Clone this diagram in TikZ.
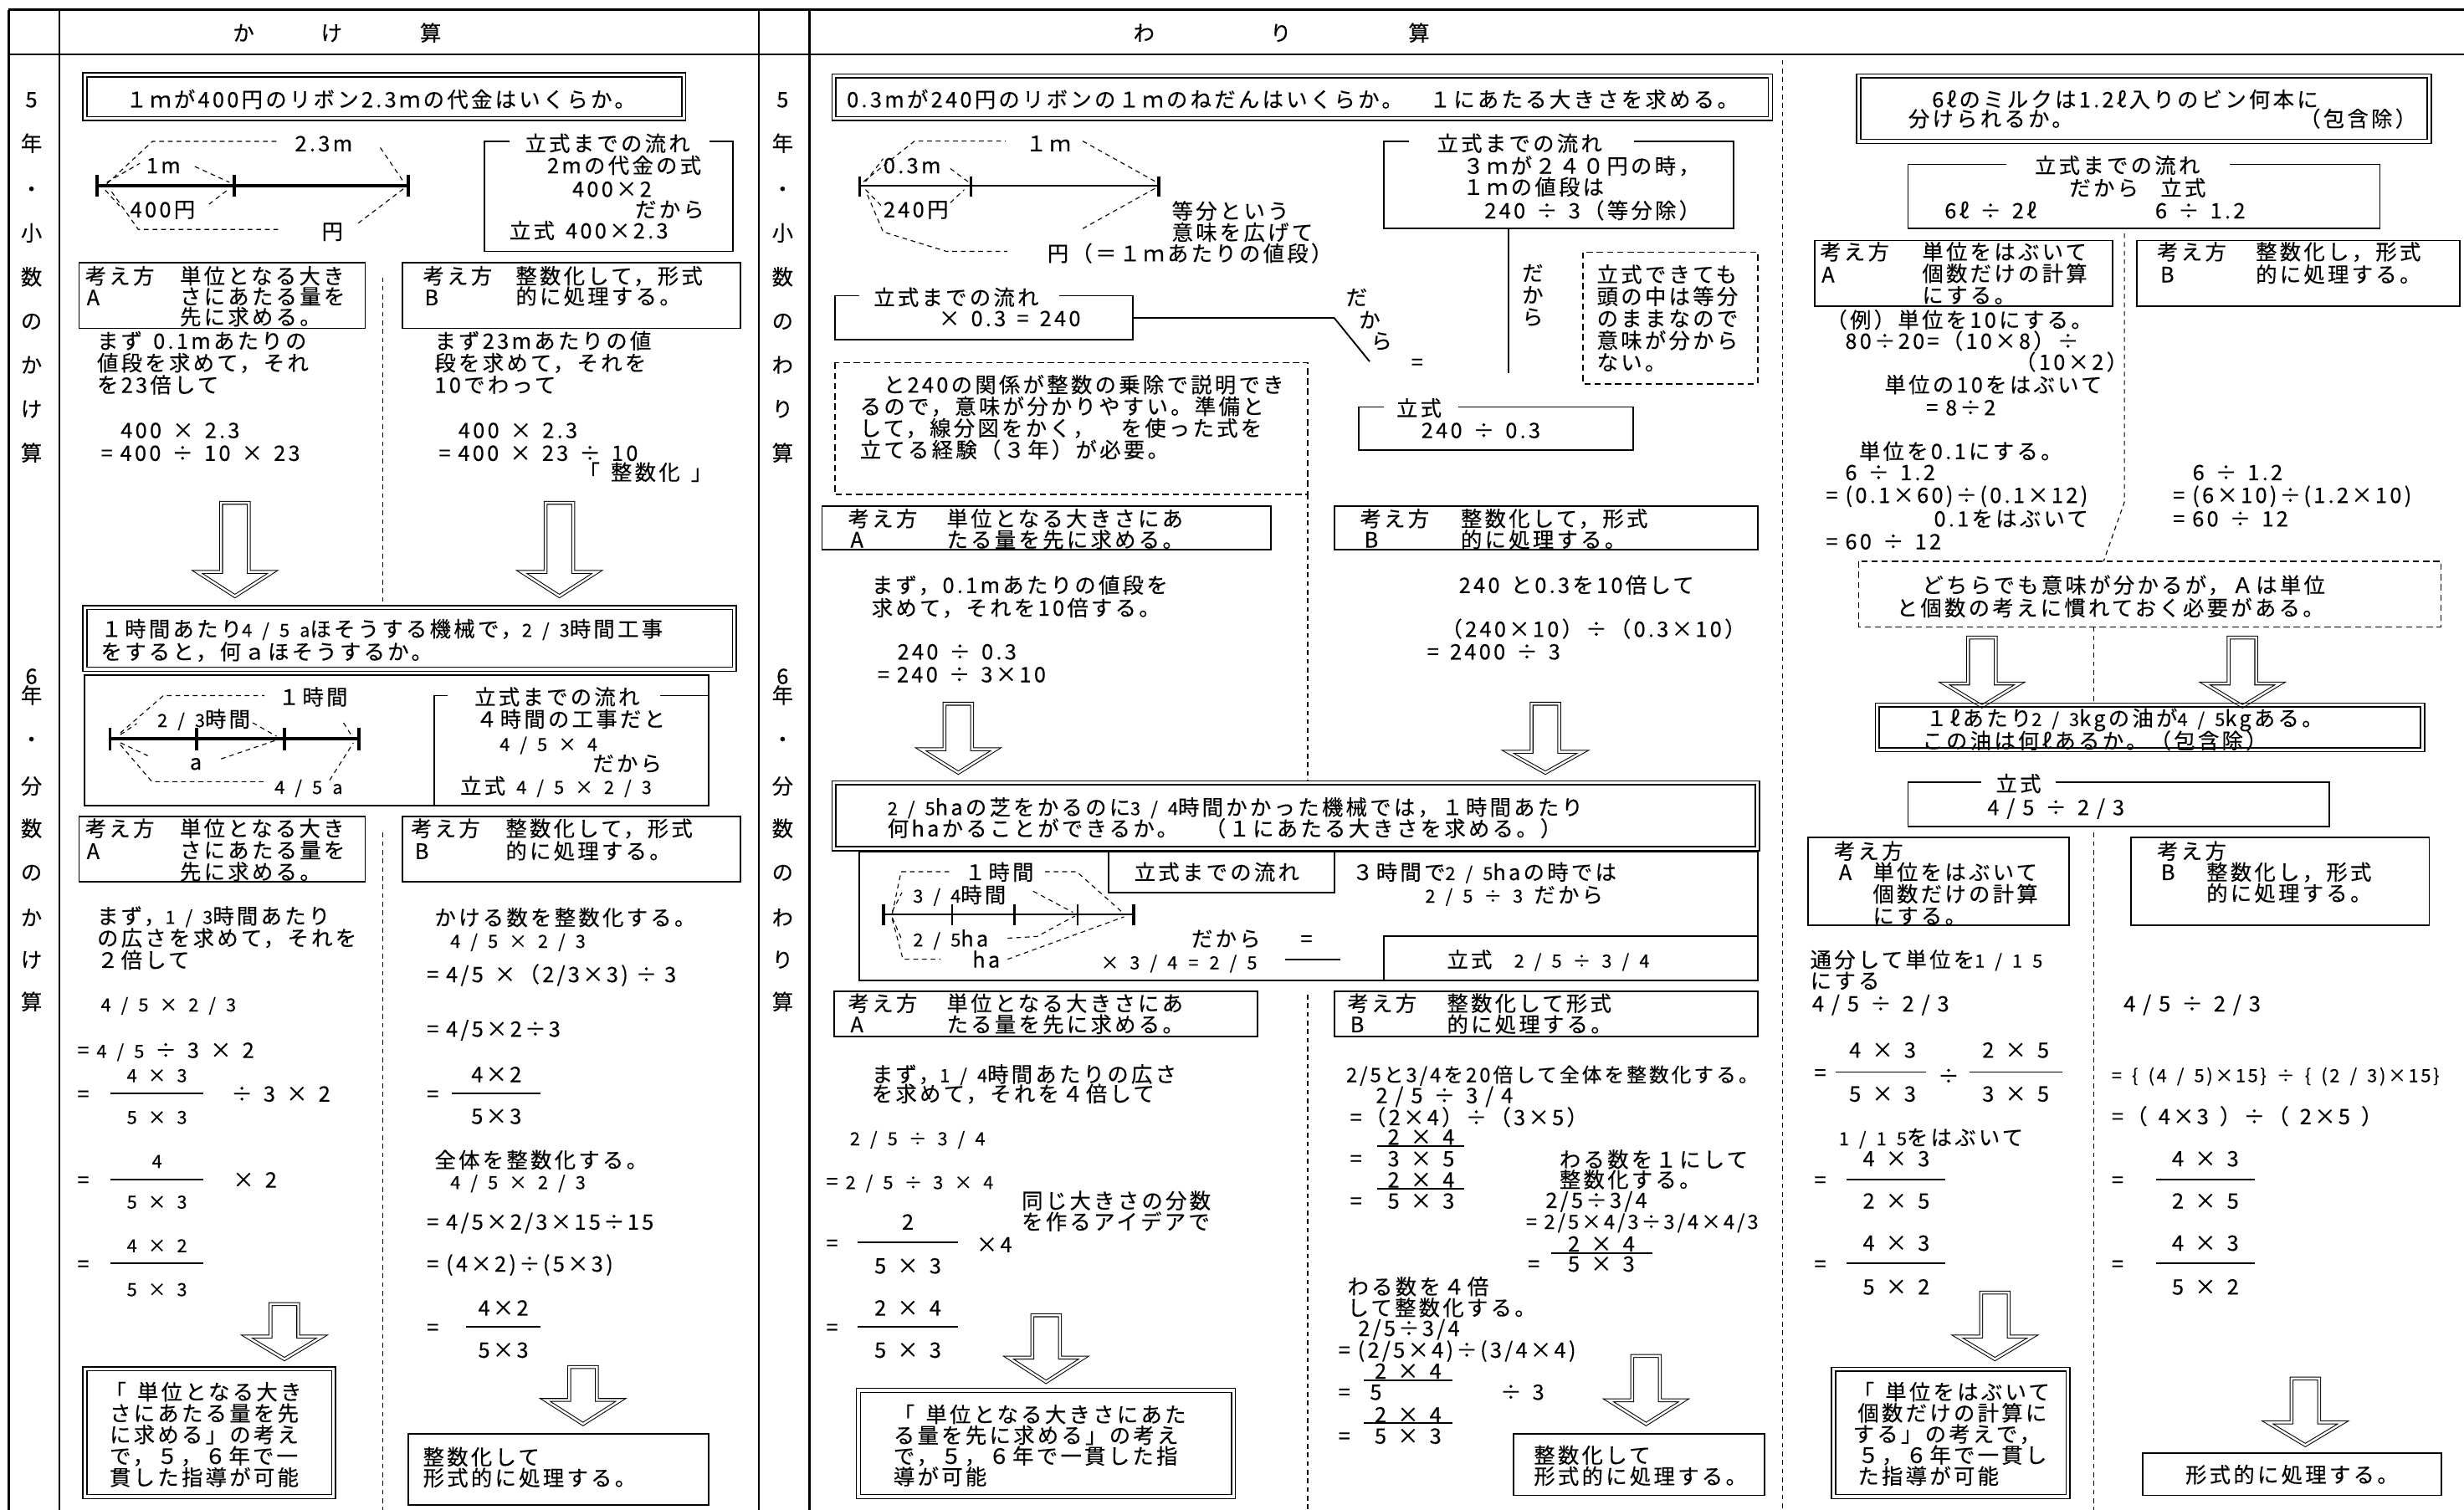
\documentclass[tikz,border=0pt]{standalone}
\usepackage{fontspec}
\newfontfamily\jpf[LetterSpace=13,FakeBold=0.3]{Noto Sans CJK JP}
\newcommand\smf[1]{{\fontsize{11.5}{12}\selectfont\spaceskip=6.5pt plus 1pt #1}}
\newcommand\nar[1]{{\fontsize{12.6}{14}\selectfont #1}}
\newcommand\GP{\hspace{7pt}}
\newcounter{nn}
\tikzset{
 tx/.style={anchor=north west,inner sep=0pt,align=left,font={\jpf\fontsize{13.5}{14}\selectfont\lineskiplimit=-50pt}},
 tc/.style={tx,anchor=north,align=center},
 bl/.style={draw,line width=1pt},
 tl/.style={line width=1.3pt},
 dl/.style={line width=0.6pt,dash pattern=on 3pt off 2.5pt},
 db/.style={line width=0.9pt,dash pattern=on 4pt off 2.5pt},
 arr/.style={draw,double,double distance=1.3pt,line width=0.55pt,fill=white},
 dg/.style={line width=2pt},
}
\newcommand\T[3]{\stepcounter{nn}\node[tx] (n\arabic{nn}) at (#1,#2-8.4) {\rule{0pt}{13.5pt}#3};}
\newcommand\Tp[4]{\stepcounter{nn}\node[tx,font={\jpf\fontsize{13.5}{#3}\selectfont\lineskiplimit=-50pt}] (n\arabic{nn}) at (#1,#2-8.4) {\rule{0pt}{13.5pt}#4};}
\newcommand\Tc[3]{\stepcounter{nn}\node[tc] (n\arabic{nn}) at (#1,#2-8.4) {\rule{0pt}{13.5pt}#3};}
\newcommand\HA[4]{\draw[arr] (#1-8.8,#2) -- (#1-8.8,#3) -- (#1-24,#3) -- (#1,#4) -- (#1+24,#3) -- (#1+8.8,#3) -- (#1+8.8,#2) -- cycle;}
\newcommand\DB[4]{\draw[line width=0.8pt] (#1,#2) rectangle (#3,#4); \draw[line width=0.8pt] (#1+2.5,#2+2.5) rectangle (#3-2.5,#4-2.5);}
\newcommand\TB[6]{\draw[bl] (#5,#2) -- (#1,#2) -- (#1,#4) -- (#3,#4) -- (#3,#2) -- (#6,#2);}
\newcommand\BX[4]{\draw[bl] (#1,#2) rectangle (#3,#4);}
\newcommand\FR[3]{\draw[line width=1pt] (#1,#3) -- (#2,#3);}
\begin{document}
\begin{tikzpicture}[x=1pt,y=-1pt]
\useasboundingbox[fill=white] (0,0) rectangle (1568,961);
% table
\draw[tl] (5.5,6.2) -- (1568,6.2);
\draw[tl] (5.5,34.6) -- (1568,34.6);
\foreach \x in {5.5,37.7,483,515} \draw[tl] (\x,6.2) -- (\x,961);
\Tc{155}{20.7}{か}\Tc{211}{20.7}{け}\Tc{274}{20.7}{算}
\Tc{728}{20.7}{わ}\Tc{815}{20.7}{り}\Tc{903}{20.7}{算}
\foreach \yy/\ch in {63/5,91/年,120/・,148/小,176/数,204/の,232/か,260/け,288/算,430/6,442.3/年,470.2/・,500/分,527/数,554.8/の,583.7/か,610.5/け,637.3/算}{\Tc{20}{\yy}{\ch}}
\foreach \yy/\ch in {63/5,91/年,120/・,148/小,176/数,204/の,232/わ,260/り,288/算,430/6,442.3/年,470.2/・,500/分,527/数,554.8/の,583.7/わ,610.5/り,637.3/算}{\Tc{498}{\yy}{\ch}}
% ===== kakezan 5 =====
\DB{52.8}{46.4}{436.4}{76.8}
\T{80}{63}{１ｍが400円のリボン2.3ｍの代金はいくらか。}
\draw[dg] (61.6,118) -- (260,118);
\foreach \x in {61.6,149,260} \draw[dg] (\x,111.5) -- (\x,125);
\draw[dl] (68,117) -- (97,90) -- (177,90);
\draw[dl] (242,94) -- (257,116);
\draw[dl] (68,116) -- (89,104);
\draw[dl] (124,106) -- (146,116);
\draw[dl] (67,121) -- (76,131);
\draw[dl] (133,130) -- (146,120);
\draw[dl] (71,122) -- (88,146) -- (177,146);
\draw[dl] (228,142) -- (257,120);
\Tc{206}{91}{2.3m}\Tc{104}{105}{1m}\Tc{103.5}{133}{400円}\Tc{211.5}{147}{円}
\TB{308.5}{90}{466.6}{160}{324}{451.5}
\Tc{386.6}{91}{立式までの流れ}
\T{348}{105}{2mの代金の式}
\T{364}{120}{400×2}
\T{404}{133}{だから}
\T{324}{146.5}{立式\GP 400×2.3}
\BX{50.3}{167}{232.4}{209}
\T{54}{175.4}{考え方}\Tp{114.3}{175.4}{13}{単位となる大き\\さにあたる量を\\先に求める。}\T{55}{189}{A}
\BX{256.3}{167}{471}{209}
\T{269}{175.4}{考え方}\Tp{328}{175.4}{13}{整数化して，形式\\的に処理する。}\T{270}{189}{B}
\T{61.6}{216.7}{まず\GP 0.1mあたりの\\値段を求めて，それ\\を23倍して}
\T{76.6}{273.5}{400\GP×\GP 2.3}
\T{64}{288}{= 400\GP÷\GP 10\GP×\GP 23}
\T{276.4}{216.7}{まず23mあたりの値\\段を求めて，それを\\10でわって}
\T{291.5}{273.5}{400\GP×\GP 2.3}
\T{279}{288}{= 400\GP×\GP 23\GP÷\GP 10}
\T{368}{300.3}{「\GP 整数化\GP 」}
\draw[dl] (243.7,176.5) -- (243.7,385.5);
\HA{149.5}{320}{364}{379.4}
\HA{356}{320}{364}{379.4}
% ===== kakezan 6 =====
\DB{52.8}{385.5}{468.6}{427.2}
\Tp{64}{400}{14.5}{１時間あたり\smf{4 / 5 a}ほそうする機械で，\smf{2 / 3}時間工事\\をすると，何ａほそうするか。}
\BX{54}{429.5}{451}{512.5}
\draw[bl] (285,442.7) -- (276.4,442.7) -- (276.4,512.5);
\draw[bl] (420,442.7) -- (451,442.7);
\Tc{354.5}{443.3}{立式までの流れ}
\T{302.8}{457.4}{４時間の工事だと}
\T{317.8}{472.7}{\smf{4 / 5\GP×\GP 4}}
\T{377}{485.6}{だから}
\T{292.7}{500}{立式\GP\smf{4 / 5\GP×\GP 2 / 3}}
\draw[dg] (70,470.2) -- (228.6,470.2);
\foreach \x in {70,125,181,228.6} \draw[dg] (\x,463) -- (\x,477.4);
\draw[dl] (76.6,466.5) -- (104,442.7) -- (168.3,442.7);
\draw[dl] (218.6,460) -- (224,468.6);
\draw[dl] (76.6,467.6) -- (87,460.5);
\draw[dl] (160.8,460) -- (176,468.6);
\draw[dl] (76.6,472.7) -- (94,481);
\draw[dl] (140.7,483) -- (176,471);
\draw[dl] (76.6,474) -- (96.7,497.5) -- (168.3,497.5);
\draw[dl] (209.8,496.5) -- (224.9,472.7);
\T{177}{443.3}{１時間}\T{100}{457.4}{\smf{2 / 3}時間}\T{120.6}{484.6}{a}\T{174.6}{500}{\smf{4 / 5 a}}
\BX{50.3}{519.7}{232.4}{561}
\T{54}{527}{考え方}\Tp{114.3}{527}{13.8}{単位となる大き\\さにあたる量を\\先に求める。}\T{55}{541.4}{A}
\BX{256.3}{519.7}{471}{561}
\T{261.3}{527}{考え方}\Tp{321.6}{527}{14.4}{整数化して，形式\\的に処理する。}\T{263.8}{541.4}{B}
\draw[dl] (243.7,530) -- (243.7,961);
\Tp{61.6}{582.7}{14}{まず，\smf{1 / 3}時間あたり\\の広さを求めて，それを\\２倍して}
\T{64}{638.4}{\smf{4 / 5\GP×\GP 2 / 3}}
\T{49}{668}{= \smf{4 / 5}\GP÷\GP 3\GP×\GP 2}
\T{49}{695.8}{=}\Tc{99.9}{683.4}{\smf{4\GP×\GP 3}}\FR{70.4}{129.4}{695.8}\Tc{99.9}{710}{\smf{5\GP×\GP 3}}\T{147}{695.8}{÷\GP 3\GP×\GP 2}
\T{49}{750.5}{=}\Tc{99.9}{738}{\smf{4}}\FR{70.4}{129.4}{750.5}\Tc{99.9}{763.9}{\smf{5\GP×\GP 3}}\T{148}{750.5}{×\GP 2}
\T{49}{804}{=}\Tc{99.9}{791.7}{\smf{4\GP×\GP 2}}\FR{70.4}{129.4}{804}\Tc{99.9}{819.6}{\smf{5\GP×\GP 3}}
\HA{181}{830}{850.6}{865}
\DB{52.8}{870}{213.6}{953.8}
\Tp{66.6}{885.6}{13.6}{「\GP 単位となる大き\\\hspace{3pt}さにあたる量を先\\\hspace{3pt}に求める」の考え\\\hspace{3pt}で，５，６年で一\\\hspace{3pt}貫した指導が可能}
\T{276.4}{583.7}{かける数を整数化する。}
\T{286.4}{598}{\smf{4 / 5\GP×\GP 2 / 3}}
\T{271.4}{619.8}{= 4/5\GP×（2/3×3) ÷ 3}
\T{271.4}{654.5}{= 4/5×2÷3}
\T{271.4}{695.8}{=}\Tc{315.9}{683.4}{4×2}\FR{287.7}{344}{695.8}\Tc{315.9}{710}{5×3}
\T{276.4}{738}{全体を整数化する。}
\T{286.4}{751.5}{\smf{4 / 5\GP×\GP 2 / 3}}
\T{271.4}{777.3}{= 4/5×2/3×15÷15}
\T{271.4}{804}{= (4×2)÷(5×3)}
\T{271.4}{844.4}{=}\Tc{320.3}{832}{4×2}\FR{296.5}{344}{844.4}\Tc{320.3}{858.8}{5×3}
\HA{371}{870}{891}{906.3}
\BX{260}{912.5}{451}{957.9}
\Tp{269}{927}{13.3}{整数化して\\形式的に処理する。}
% ===== warizan 5 =====
\DB{529.4}{47}{1127.9}{76.8}
\T{538.7}{63}{0.3mが240円のリボンの１ｍのねだんはいくらか。　１にあたる大きさを求める。}
\draw[line width=1.2pt] (547,118) -- (737.4,118);
\draw[dg] (547,112.5) -- (547,125);
\draw[dg] (737.4,112.5) -- (737.4,125);
\draw[line width=1.5pt] (617.9,112.5) -- (617.9,125);
\draw[dl] (549.5,115.6) -- (582,89.8) -- (640,89.8);
\draw[dl] (689,89.8) -- (735.4,115.6);
\draw[dl] (550.8,115.6) -- (562,101);
\draw[dl] (604.8,107.3) -- (616,115.6);
\draw[dl] (550.8,120.7) -- (560.8,131);
\draw[dl] (604.8,129) -- (613.6,120.7);
\draw[dl] (552,124) -- (562,147.6) -- (602.3,160) -- (641,160);
\draw[dl] (689,145.5) -- (735.4,119.7);
\T{652.5}{91}{１ｍ}\T{562}{105}{0.3m}\T{562}{133}{240円}
\Tp{745.5}{134}{13.6}{等分という\\意味を広げて}
\T{666.3}{161}{円（＝１ｍあたりの値段）}
\TB{880.4}{90.2}{1103.3}{145.5}{896.7}{1040}
\Tc{967}{91}{立式までの流れ}
\T{930.7}{105.3}{３ｍが２４０円の時，}
\T{930.7}{118.7}{１ｍの値段は}
\T{944.5}{133.7}{240\GP÷\GP 3（等分除）}
\draw[bl] (960,145.5) -- (960,237.4);
\Tp{968.4}{173.4}{14}{だ\\か\\ら}
\draw[db] (1007.3,160.6) rectangle (1118.6,244.2);
\Tp{1016}{174.4}{14}{立式できても\\頭の中は等分\\のままなので\\意味が分から\\ない。}
\TB{531.2}{188.2}{721.1}{216.3}{547}{673.9}
\Tc{608.5}{189}{立式までの流れ}
\T{597.2}{202.3}{×\GP 0.3\GP =\GP 240}
\draw[bl] (721.1,202.3) -- (849,202.3) -- (871.6,230.1);
\Tc{863.3}{188.9}{だ}\Tc{871.6}{203.3}{か}\Tc{879.2}{216.7}{ら}\Tc{901.8}{230.1}{=}
\draw[db] (531.2,230.8) rectangle (832.2,314.8);
\Tp{562}{244.6}{13.8}{と240の関係が整数の乗除で説明でき}
\Tp{547}{258.4}{13.8}{るので，意味が分かりやすい。準備と\\して，線分図をかく，　を使った式を\\立てる経験（３年）が必要。}
\TB{864.6}{259}{1039.2}{286.5}{880.4}{928.2}
\Tc{903}{259.5}{立式}
\T{904.3}{273.5}{240\GP÷\GP 0.3}
\BX{523.1}{322}{808.8}{350}
\T{539.5}{329.8}{考え方}\Tp{602.3}{329.8}{13.4}{単位となる大きさにあ\\たる量を先に求める。}\T{541}{343.2}{A}
\BX{849}{322}{1118.6}{350}
\T{865.3}{329.8}{考え方}\Tp{929.4}{329.8}{13.4}{整数化して，形式\\的に処理する。}\T{868}{343.2}{B}
\draw[dl] (832.2,314.8) -- (832.2,497);
\Tp{554.5}{372.1}{14.5}{まず，0.1mあたりの値段を\\求めて，それを10倍する。}
\T{570.9}{414.4}{240\GP÷\GP 0.3}
\T{558.3}{428.9}{= 240\GP÷\GP 3×10}
\HA{609.8}{447.9}{476.8}{491.8}
\T{928.2}{372.1}{240\GP と0.3を10倍して}
\T{916.9}{400}{（240×10）÷（0.3×10）}
\T{908}{414.4}{=\GP 2400\GP÷\GP 3}
\HA{983.4}{447.9}{478.4}{491.8}
% ===== warizan 6 =====
\DB{529.4}{497}{1119.6}{541.4}
\Tp{564.6}{513.5}{13.5}{\smf{2 / 5}haの芝をかるのに\smf{3 / 4}時間かかった機械では，１時間あたり\\何haかることができるか。　（１にあたる大きさを求める。）}
\BX{547}{542}{1118.6}{624}
\BX{705.3}{542}{849}{568.2}
\T{721.6}{554.8}{立式までの流れ}
\T{860.3}{554.8}{３時間で\smf{2 / 5}haの時では}
\T{906.8}{569.2}{\smf{2 / 5\GP÷\GP 3}\GP だから}
\BX{880.4}{596}{1118.6}{624}
\T{920.6}{610.5}{立式\GP\GP\smf{2 / 5\GP÷\GP 3 / 4}}
\T{758}{597.1}{だから}\Tc{831.4}{597.1}{=}
\T{700.3}{611.6}{\smf{×\GP 3 / 4\GP =\GP 2 / 5}}
\draw[bl] (817.6,610.5) -- (852.8,610.5);
\draw[line width=1.2pt] (562.1,582) -- (721.6,582);
\draw[dg] (562.1,575.4) -- (562.1,588.8);
\draw[dg] (721.6,575.4) -- (721.6,588.8);
\foreach \x in {606,645.5,685.7} \draw[line width=1.2pt] (\x,575.4) -- (\x,588.8);
\draw[dl] (567.8,581.6) -- (573.4,554.8) -- (604.8,554.8);
\draw[dl] (665,554.8) -- (685.2,554.8) -- (715.3,581.6);
\draw[dl] (567.8,580) -- (574,568);
\draw[dl] (657.5,567.2) -- (682.7,580.6);
\draw[dl] (567.8,584) -- (573.4,597);
\draw[dl] (641.2,597.1) -- (660,596) -- (684,583);
\draw[dl] (567.8,585) -- (574.6,610.5) -- (598.5,610.5);
\draw[dl] (641.2,610.5) -- (715.3,583.5);
\T{613.6}{554.8}{１時間}\T{580.9}{569.2}{\smf{3 / 4}時間}\T{580.9}{597.1}{\smf{2 / 5}ha}\T{618.6}{610.5}{ha}
\BX{530.7}{631}{800}{659.6}
\T{539.5}{638.3}{考え方}\Tp{602.3}{638.3}{13.4}{単位となる大きさにあ\\たる量を先に求める。}\T{541}{651.7}{A}
\BX{849}{631}{1118.6}{659.6}
\T{857.3}{638.3}{考え方}\Tp{920.6}{638.3}{13.4}{整数化して形式\\的に処理する。}\T{859}{651.7}{B}
\draw[dl] (832.2,633) -- (832.2,961);
\Tp{554.5}{683.4}{12.4}{まず，\smf{1 / 4}時間あたりの広さ\\を求めて，それを４倍して}
\T{540.7}{723.6}{\smf{2 / 5\GP÷\GP 3 / 4}}
\T{525.6}{751.5}{= \smf{2 / 5\GP÷\GP 3\GP×\GP 4}}
\Tp{650}{763.9}{13.4}{同じ大きさの分数\\を作るアイデアで}
\T{525.6}{790.7}{=}\Tc{577.7}{777.3}{2}\FR{545.7}{609.8}{790.7}\Tc{577.7}{805.2}{5\GP×\GP 3}\T{621.1}{791.7}{×4}
\T{525.6}{844.4}{=}\Tc{577.7}{832}{2\GP×\GP 4}\FR{545.7}{609.8}{844.4}\Tc{577.7}{858.8}{5\GP×\GP 3}
\HA{665.7}{837.1}{864}{879.5}
\DB{545}{883.6}{786.2}{953.8}
\Tp{568.4}{900}{13.2}{「\GP 単位となる大きさにあた\\る量を先に求める」の考え\\で，５，６年で一貫した指\\導が可能}
\T{856.5}{683.4}{\nar{2/5と3/4を20倍して全体を整数化する。}}
\T{875.4}{696.8}{2 / 5\GP÷\GP 3 / 4}
\T{859}{710.8}{=（2×4）÷（3×5）}
\Tc{904.3}{723.2}{2\GP×\GP 4}\FR{876.6}{932}{729.2}\T{859}{737}{=}\Tc{904.3}{737}{3\GP×\GP 5}
\Tc{904.3}{750.5}{2\GP×\GP 4}\FR{876.6}{932}{756.6}\T{859}{763.9}{=}\Tc{904.3}{763.9}{5\GP×\GP 3}
\Tp{992.2}{737.7}{12.8}{わる数を１にして\\整数化する。}
\T{983.4}{763.5}{2/5÷3/4}
\T{970.9}{776.9}{\nar{= 2/5×4/3÷3/4×4/3}}
\Tc{1019}{791.3}{2\GP×\GP 4}\FR{987.2}{1051.3}{797.5}\T{972.1}{804}{=}\Tc{1019}{804}{5\GP×\GP 3}
\Tp{857.3}{818.6}{13.4}{わる数を４倍\\して整数化する。}
\T{864.1}{845}{2/5÷3/4}
\T{851.5}{858.8}{= (2/5×4)÷(3/4×4)}
\Tc{896}{872.2}{2\GP×\GP 4}\FR{867.9}{924.4}{878.4}\T{851.5}{885.6}{=}\T{871.6}{885.6}{5}\T{954.5}{885.6}{÷\GP 3}
\Tc{896}{900}{2\GP×\GP 4}\FR{867.9}{924.4}{905.7}\T{851.5}{913.5}{=}\Tc{896}{913.5}{5\GP×\GP 3}
\HA{1047.5}{863}{891.2}{906.3}
\BX{963.3}{912.5}{1122.9}{951.7}
\Tp{975.9}{925.9}{13.4}{整数化して\\形式的に処理する。}
\draw[dl] (1134.2,38.2) -- (1134.2,961);
% ===== hogan-jo =====
\DB{1181.5}{47}{1547.1}{91.2}
\T{1229.3}{63}{6ℓのミルクは1.2ℓ入りのビン何本に}
\T{1214.2}{75.3}{分けられるか。}
\T{1463}{75.3}{（包含除）}
\TB{1214.2}{104.6}{1514.5}{145.5}{1277}{1419}
\Tc{1347.4}{105}{立式までの流れ}
\T{1316.7}{119.3}{だから\GP\GP 立式}
\T{1237.3}{133.7}{6ℓ\GP÷\GP 2ℓ}
\T{1371.3}{133.7}{6\GP÷\GP 1.2}
\draw[dl] (1351.9,148.6) -- (1351.9,319.5) -- (1338.6,357.3);
\BX{1154.8}{153.1}{1344.4}{195}
\T{1158}{160}{考え方}\Tp{1223}{160}{13.8}{単位をはぶいて\\個数だけの計算\\にする。}\T{1159}{174.4}{A}
\BX{1360}{153.1}{1565.5}{195}
\T{1372.5}{160}{考え方}\Tp{1435.3}{160}{14.4}{整数化し，形式\\的に処理する。}\T{1374.5}{174.4}{B}
\T{1161.8}{203.3}{（例）単位を10にする。}
\T{1174}{216.7}{80÷20=（10×8）÷}
\T{1282}{230.1}{（10×2）}
\T{1199.1}{244.6}{単位の10をはぶいて}
\T{1225.5}{259}{= 8÷2}
\T{1182.8}{286.9}{単位を0.1にする。}
\T{1174}{300.3}{6\GP÷\GP 1.2}
\T{1161.8}{314.8}{= (0.1×60)÷(0.1×12)}
\T{1230.5}{329.8}{0.1をはぶいて}
\T{1161.8}{344.3}{= 60\GP÷\GP 12}
\T{1395.1}{300.3}{6\GP÷\GP 1.2}
\T{1382.6}{314.8}{= (6×10)÷(1.2×10)}
\T{1382.6}{329.8}{= 60\GP÷\GP 12}
\draw[db] (1182.8,357.3) rectangle (1553.4,399);
\T{1223}{372.1}{どちらでも意味が分かるが，Ａは単位}
\T{1206.7}{386.6}{と個数の考えに慣れておく必要がある。}
\draw[dl] (1332.3,399) -- (1332.3,447.5);
\HA{1261.2}{405.8}{435}{449.5}
\HA{1427}{405.8}{435}{449.5}
\DB{1193.4}{447.5}{1542.9}{478.4}
\T{1225.5}{456.8}{１ℓあたり\smf{2 / 3}kgの油が\smf{4 / 5}kgある。}
\T{1223}{471.2}{この油は何ℓあるか。（包含除）}
\TB{1214.2}{498}{1482.3}{525.9}{1260.7}{1308.4}
\Tc{1284.5}{498.5}{立式}
\T{1264.5}{513.5}{4 / 5\GP÷\GP 2 / 3}
\draw[dl] (1332.3,530) -- (1332.3,961);
\BX{1150.5}{533.1}{1316.7}{588.8}
\T{1166.9}{541.4}{考え方}\T{1170}{554.8}{A}\Tp{1191.6}{554.8}{13.9}{単位をはぶいて\\個数だけの計算\\にする。}
\BX{1356.2}{533.1}{1545.9}{588.8}
\T{1372.5}{541.4}{考え方}\T{1375}{554.8}{B}\Tp{1403.9}{554.8}{13.4}{整数化し，形式\\的に処理する。}
\Tp{1151.8}{610.5}{13.4}{通分して単位を\smf{1 / 1 5}\\にする}
\T{1153}{638.4}{4 / 5\GP÷\GP 2 / 3}
\T{1154.3}{682.3}{=}\Tc{1198}{667.9}{4\GP×\GP 3}\FR{1168}{1225.5}{682.3}\Tc{1198}{695.8}{5\GP×\GP 3}
\Tc{1240}{684.4}{÷}\Tc{1282.7}{667.9}{2\GP×\GP 5}\FR{1253.2}{1312.2}{682.3}\Tc{1282.7}{695.8}{3\GP×\GP 5}
\T{1170}{723.6}{\smf{1 / 1 5}をはぶいて}
\T{1154.3}{750.5}{=}\Tc{1206.7}{737}{4\GP×\GP 3}\FR{1175.3}{1238.1}{750.5}\Tc{1206.7}{763.9}{2\GP×\GP 5}
\T{1154.3}{804}{=}\Tc{1206.7}{790.7}{4\GP×\GP 3}\FR{1175.3}{1238.1}{804}\Tc{1206.7}{818.6}{5\GP×\GP 2}
\HA{1269.5}{822.7}{850.6}{865}
\DB{1165.6}{870.2}{1317.2}{953.8}
\Tp{1179}{885.6}{13.4}{「\GP 単位をはぶいて\\\hspace{3pt}個数だけの計算に\\する」の考えで，\\\hspace{3pt}５，６年で一貫し\\\hspace{3pt}た指導が可能}
\T{1351.2}{638.4}{4 / 5\GP÷\GP 2 / 3}
\T{1343.6}{683.4}{\smf{= \{ (4 / 5)×15\} ÷ \{ (2 / 3)×15\}}}
\T{1343.6}{710.2}{=（\GP 4×3\GP ）÷（\GP 2×5\GP ）}
\T{1343.6}{750.5}{=}\Tc{1403.4}{737}{4\GP×\GP 3}\FR{1372}{1434.8}{750.5}\Tc{1403.4}{763.9}{2\GP×\GP 5}
\T{1343.6}{804}{=}\Tc{1403.4}{790.7}{4\GP×\GP 3}\FR{1372}{1434.8}{804}\Tc{1403.4}{818.6}{5\GP×\GP 2}
\HA{1467}{877.4}{905.3}{919.7}
\BX{1363.7}{924.9}{1553.4}{951.7}
\Tc{1458.5}{938.3}{形式的に処理する。}
\end{tikzpicture}
\end{document}
